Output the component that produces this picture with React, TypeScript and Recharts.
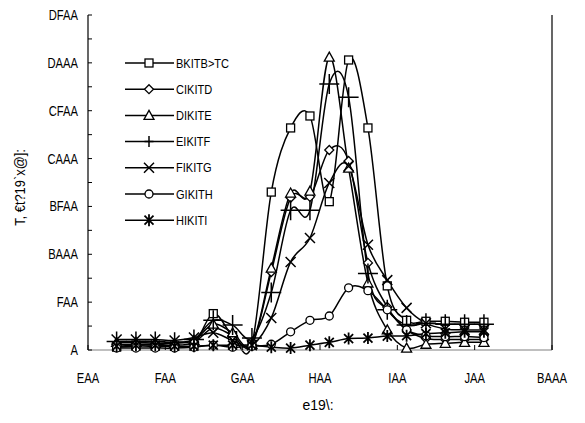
import React from 'react';
import { LineChart, Line, XAxis, YAxis, ReferenceLine, Legend, Label } from 'recharts';

// wavelength positions
const wavelength = [437, 462, 487, 512, 537, 562, 587, 612, 637, 662, 687, 712, 737, 762, 787, 812, 837, 862, 887, 912];

const seriesNames = ['BKITB>TC', 'CIKITD', 'DIKITE', 'EIKITF', 'FIKITG', 'GIKITH', 'HIKITI'];
const seriesMarkers = ['square', 'diamond', 'triangle', 'plus', 'cross', 'circle', 'star'];

const s1 = [30, 40, 40, 40, 60, 380, 150, 60, 1650, 2320, 2445, 1550, 3030, 2320, 670, 310, 300, 300, 290, 290];
const s2 = [60, 60, 60, 50, 80, 230, 150, 50, 815, 1590, 1600, 2090, 1975, 910, 450, 210, 120, 110, 110, 110];
const s3 = [80, 80, 70, 70, 100, 270, 180, 60, 855, 1640, 1660, 3060, 1900, 700, 210, 20, 60, 70, 80, 80];
const s4 = [90, 90, 90, 80, 110, 310, 260, 125, 600, 1460, 1460, 2780, 2640, 800, 420, 260, 280, 270, 270, 270];
const s5 = [110, 110, 110, 100, 130, 180, 100, 50, 335, 920, 1170, 1745, 1920, 1100, 730, 440, 280, 220, 210, 210];
const s6 = [20, 20, 20, 20, 30, 50, 30, 40, 60, 190, 310, 355, 650, 620, 420, 210, 150, 140, 140, 130];
const s7 = [40, 50, 50, 40, 40, 50, 50, 50, 30, 20, 50, 80, 120, 125, 145, 150, 170, 180, 190, 190];
const allSeries = [s1, s2, s3, s4, s5, s6, s7];

const xTicks = [400, 500, 600, 700, 800, 900, 1000];
const xTickLabels = ['EAA', 'FAA', 'GAA', 'HAA', 'IAA', 'JAA', 'BAAA'];
const yMajorTicks = [0, 500, 1000, 1500, 2000, 2500, 3000, 3500];
const yTickLabels = ['A', 'FAA', 'BAAA', 'BFAA', 'CAAA', 'CFAA', 'DAAA', 'DFAA'];
const yMinorTicks = [250, 750, 1250, 1750, 2250, 2750, 3250];

const xTitle = 'e19\\:';
const yTitle = 'T, €t?19`x@]:';

const FONT = "'Liberation Sans', Arial, sans-serif";

const rows = wavelength.map((x, i) => {
  const r: any = { x };
  allSeries.forEach((s, k) => (r['s' + (k + 1)] = s[i]));
  return r;
});

// excel-like smoothed line (catmull-rom through the points)
const excelCurve = (context: any) => {
  let pts: number[][] = [];
  return {
    areaStart() {},
    areaEnd() {},
    lineStart() {
      pts = [];
    },
    point(x: number, y: number) {
      pts.push([+x, +y]);
    },
    lineEnd() {
      const n = pts.length;
      if (!n) return;
      context.moveTo(pts[0][0], pts[0][1]);
      for (let i = 0; i < n - 1; i++) {
        const p0 = pts[i - 1] || pts[i];
        const p1 = pts[i];
        const p2 = pts[i + 1];
        const p3 = pts[i + 2] || p2;
        context.bezierCurveTo(
          p1[0] + (p2[0] - p0[0]) / 6,
          p1[1] + (p2[1] - p0[1]) / 6,
          p2[0] - (p3[0] - p1[0]) / 6,
          p2[1] - (p3[1] - p1[1]) / 6,
          p2[0],
          p2[1]
        );
      }
    },
  };
};

// narrow text (the original uses a condensed face)
const NText = ({ x, y, anchor = 'start', size = 14, sx = 0.8, rotate = 0, children }: any) => (
  <text
    transform={`translate(${x},${y}) rotate(${rotate}) scale(${sx},1)`}
    textAnchor={anchor}
    fontSize={size}
    fontFamily={FONT}
    fill="#000"
  >
    {children}
  </text>
);

function Marker({ kind, cx, cy, big }: any) {
  if (cx == null || cy == null) return null;
  const st = { stroke: '#000', strokeWidth: 1.3, fill: '#fff' };
  switch (kind) {
    case 'square':
      return <rect x={cx - 4} y={cy - 4} width={8} height={8} {...st} />;
    case 'diamond':
      return <polygon points={`${cx},${cy - 4.5} ${cx + 4.5},${cy} ${cx},${cy + 4.5} ${cx - 4.5},${cy}`} {...st} />;
    case 'triangle':
      return <polygon points={`${cx},${cy - 5} ${cx + 5},${cy + 4} ${cx - 5},${cy + 4}`} {...st} />;
    case 'plus': {
      const h = big ? 10 : 4.5;
      const v = big ? 10 : 5.5;
      return <path d={`M${cx - h},${cy}H${cx + h}M${cx},${cy - v}V${cy + v}`} stroke="#000" strokeWidth={1.5} fill="none" />;
    }
    case 'cross':
      return <path d={`M${cx - 5},${cy - 5}L${cx + 5},${cy + 5}M${cx - 5},${cy + 5}L${cx + 5},${cy - 5}`} stroke="#000" strokeWidth={1.5} fill="none" />;
    case 'circle':
      return <circle cx={cx} cy={cy} r={4} {...st} />;
    case 'star':
      return (
        <path
          d={`M${cx - 4.5},${cy - 4.5}L${cx + 4.5},${cy + 4.5}M${cx - 4.5},${cy + 4.5}L${cx + 4.5},${cy - 4.5}M${cx},${cy - 6}V${cy + 6}`}
          stroke="#000"
          strokeWidth={1.8}
          fill="none"
        />
      );
  }
  return null;
}

const XTick = ({ x, y, payload }: any) => {
  const i = xTicks.indexOf(payload.value);
  return (
    <g>
      <line x1={x} y1={y} x2={x} y2={y - 5} stroke="#000" />
      <NText x={x} y={y + 33} anchor="middle">
        {xTickLabels[i]}
      </NText>
    </g>
  );
};

const YTick = ({ x, y, payload }: any) => {
  const i = yMajorTicks.indexOf(payload.value);
  return (
    <g>
      <line x1={x} y1={y} x2={x + 4} y2={y} stroke="#000" />
      {i >= 0 && (
        <NText x={x - 10} y={y + 5} anchor="end">
          {yTickLabels[i]}
        </NText>
      )}
    </g>
  );
};

const LegendBox = () => (
  <svg width={130} height={190}>
    {seriesNames.map((name, i) => {
      const y = 13 + i * 26.2;
      return (
        <g key={name}>
          <line x1={5} y1={y} x2={54} y2={y} stroke="#000" strokeWidth={1.5} />
          <Marker kind={seriesMarkers[i]} cx={29} cy={y} />
          <NText x={56} y={y + 4.5} size={13} sx={0.85}>
            {name}
          </NText>
        </g>
      );
    })}
  </svg>
);

export default function App() {
  const allYTicks = [...yMajorTicks, ...yMinorTicks].sort((a, b) => a - b);
  return (
    <div style={{ position: 'absolute', left: 0, top: 0, background: '#fff' }}>
      <LineChart width={585} height={423} data={rows} margin={{ top: 15, right: 33, bottom: 0, left: 0 }}>
        <XAxis
          dataKey="x"
          type="number"
          domain={[400, 1000]}
          ticks={xTicks}
          height={73}
          tickSize={0}
          tickMargin={0}
          tickLine={false}
          tick={<XTick />}
          axisLine={{ stroke: '#808080', strokeWidth: 1.2 }}
          interval={0}
        >
          <Label
            content={({ viewBox }: any) => (
              <NText x={viewBox.x + viewBox.width / 2 - 2} y={viewBox.y + 60} anchor="middle" sx={1}>
                {xTitle}
              </NText>
            )}
          />
        </XAxis>
        <YAxis
          type="number"
          domain={[0, 3500]}
          ticks={allYTicks}
          width={88}
          tickSize={0}
          tickMargin={0}
          tickLine={false}
          tick={<YTick />}
          axisLine={{ stroke: '#000', strokeWidth: 1.2 }}
          interval={0}
        >
          <Label
            content={({ viewBox }: any) => (
              <NText x={viewBox.x + 25} y={viewBox.y + viewBox.height / 2 + 5} anchor="middle" sx={0.92} rotate={-90}>
                {yTitle}
              </NText>
            )}
          />
        </YAxis>
        <ReferenceLine x={1000} stroke="#000" strokeWidth={1.2} />
        {seriesNames.map((name, k) => (
          <Line
            key={name}
            name={name}
            dataKey={'s' + (k + 1)}
            type={excelCurve as any}
            stroke="#000"
            strokeWidth={1.5}
            isAnimationActive={false}
            dot={(p: any) => <Marker key={p.index} kind={seriesMarkers[k]} cx={p.cx} cy={p.cy} big />}
            activeDot={false}
          />
        ))}
        <Legend
          layout="horizontal"
          align="center"
          verticalAlign="middle"
          wrapperStyle={{ left: 120, top: 50, width: 130, height: 190 }}
          content={() => <LegendBox />}
        />
      </LineChart>
    </div>
  );
}
